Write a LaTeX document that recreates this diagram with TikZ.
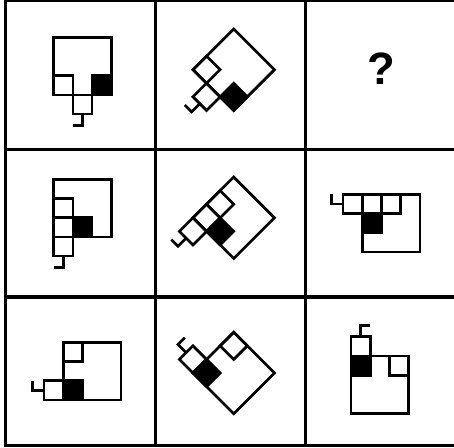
\documentclass[tikz,border=0pt]{standalone}
\usepackage{fontspec}
\setmainfont{Liberation Sans}
\begin{document}
\begin{tikzpicture}[x=0.75pt,y=-0.75pt,
  gridline/.style={line width=2.6pt},
  figline/.style={line width=2pt, line join=miter},
  blk/.style={fill=black, draw=black, line width=2pt}]
\useasboundingbox (0,0) rectangle (454,447);
% grid
\draw[gridline] (5,0) -- (454,0);
\draw[gridline] (5,149.3) -- (454,149.3);
\draw[gridline] (5,296.8) -- (454,296.8);
\draw[gridline] (5,445.5) -- (454,445.5);
\draw[gridline] (5.5,0) -- (5.5,447);
\draw[gridline] (155.5,0) -- (155.5,447);
\draw[gridline] (305.5,0) -- (305.5,447);
% figure type A (row 1)
\foreach \ang/\px/\py in {0/82.5/66.1, -45/233.7/69.7}{
  \begin{scope}[shift={(\px,\py)}, rotate=\ang, scale=19.2, shift={(-1.5,-1.5)}]
    \fill[blk] (2,2) rectangle (3,3);
    \draw[figline] (0,0) rectangle (3,3);
    \draw[figline] (0,2) rectangle (1,3);
    \draw[figline] (1,3) rectangle (2,4);
    \draw[figline] (1.5,4) -- (1.5,4.6) -- (1,4.6);
  \end{scope}
}
% figure type B (row 2)
\foreach \ang/\px/\py in {0/82.5/208.1, -45/233.7/217.8}{
  \begin{scope}[shift={(\px,\py)}, rotate=\ang, scale=19.2, shift={(-1.5,-1.5)}]
    \fill[blk] (1,2) rectangle (2,3);
    \draw[figline] (0,0) rectangle (3,3);
    \draw[figline] (0,1) rectangle (1,2);
    \draw[figline] (0,2) rectangle (1,3);
    \draw[figline] (0,3) rectangle (1,4);
    \draw[figline] (0.5,4) -- (0.5,4.6) -- (0,4.6);
  \end{scope}
}
% figure type C (row 3)
\foreach \ang/\px/\py in {0/92.1/371.1, -45/233.7/373}{
  \begin{scope}[shift={(\px,\py)}, rotate=\ang, scale=19.2, shift={(-1.5,-1.5)}]
    \fill[blk] (0,2) rectangle (1,3);
    \draw[figline] (0,0) rectangle (3,3);
    \draw[figline] (0,0) rectangle (1,1);
    \draw[figline] (-1,2) rectangle (0,3);
    \draw[figline] (-1,2.5) -- (-1.6,2.5) -- (-1.6,2);
  \end{scope}
}
% row 2, column 3
\begin{scope}[shift={(391.1,223.1)}, scale=19.2, shift={(-1.5,-1.5)}]
  \fill[blk] (0,1) rectangle (1,2);
  \draw[figline] (0,0) rectangle (3,3);
  \draw[figline] (-1,0) rectangle (0,1);
  \draw[figline] (0,0) rectangle (1,1);
  \draw[figline] (1,0) rectangle (2,1);
  \draw[figline] (-1,0.5) -- (-1.6,0.5) -- (-1.6,0);
\end{scope}
% row 3, column 3
\begin{scope}[shift={(379.8,384.8)}, scale=19.2, shift={(-1.5,-1.5)}]
  \fill[blk] (0,0) rectangle (1,1);
  \draw[figline] (0,0) rectangle (3,3);
  \draw[figline] (0,-1) rectangle (1,0);
  \draw[figline] (2,0) rectangle (3,1);
  \draw[figline] (0.5,-1) -- (0.5,-1.6) -- (1,-1.6);
\end{scope}
% question mark
\node[inner sep=0pt, font=\bfseries\fontsize{34}{34}\selectfont] (q) at (381,68.3) {?};
\end{tikzpicture}
\end{document}
